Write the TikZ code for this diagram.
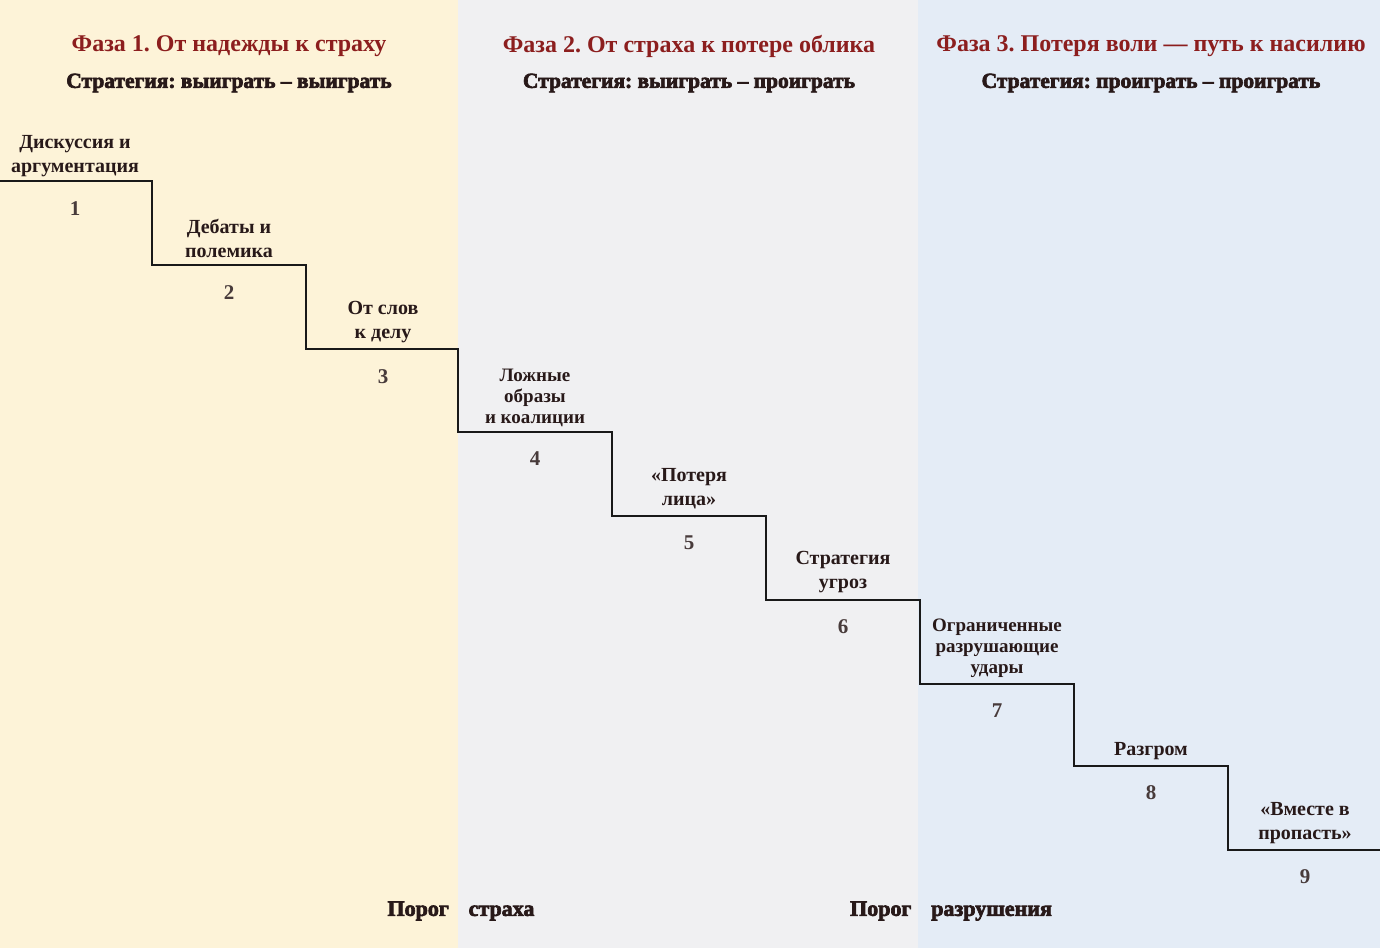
\documentclass[tikz,border=0pt]{standalone}
\usepackage{fontspec}
\setmainfont{Liberation Serif}
\newfontfamily\heavyfont[FakeBold=3]{Liberation Serif Bold}
\frenchspacing
\definecolor{bgA}{RGB}{253,243,216}
\definecolor{bgB}{RGB}{240,240,242}
\definecolor{bgC}{RGB}{228,236,246}
\definecolor{titlered}{RGB}{140,30,30}
\definecolor{inkdark}{RGB}{40,25,25}
\definecolor{stairline}{RGB}{25,25,25}
\tikzset{
  phasetitle/.style={text=titlered, font=\bfseries\fontsize{24}{26}\selectfont, inner sep=0pt},
  strategy/.style={text=inkdark, font=\heavyfont\fontsize{21.5}{22}\selectfont, inner sep=0pt},
  steplabel/.style={text=inkdark, font=\bfseries\fontsize{20}{24}\selectfont, align=center, inner sep=0pt},
  steplabelsmall/.style={text=inkdark, font=\bfseries\fontsize{19}{21}\selectfont, align=center, inner sep=0pt},
  stepnum/.style={text=inkdark!85, font=\bfseries\fontsize{21}{22}\selectfont, inner sep=0pt},
  threshold/.style={text=inkdark, font=\heavyfont\fontsize{22}{24}\selectfont, inner sep=0pt},
  stair/.style={draw=stairline, line width=2.4pt, line cap=rect, line join=miter}
}
\begin{document}
\begin{tikzpicture}[x=1pt,y=-1pt]
\useasboundingbox (0,0) rectangle (1380,948);
\fill[bgA] (0,0) rectangle (458,948);
\fill[bgB] (458,0) rectangle (918,948);
\fill[bgC] (918,0) rectangle (1380,948);

% phase headings
\node[phasetitle] (p1) at (229,46) {Фаза 1. От надежды к страху};
\node[phasetitle] (p2) at (689,46) {Фаза 2. От страха к потере облика};
\node[phasetitle] (p3) at (1151,46) {Фаза 3. Потеря воли — путь к насилию};
\node[strategy] (s1) at (229,83) {Стратегия: выиграть – выиграть};
\node[strategy] (s2) at (689,83) {Стратегия: выиграть – проиграть};
\node[strategy] (s3) at (1151,83) {Стратегия: проиграть – проиграть};

% stair corners
\coordinate (a0) at (0,181);
\coordinate (a1) at (152,181);   \coordinate (b1) at (152,265);
\coordinate (a2) at (306,265);   \coordinate (b2) at (306,349);
\coordinate (a3) at (458,349);   \coordinate (b3) at (458,432);
\coordinate (a4) at (612,432);   \coordinate (b4) at (612,516);
\coordinate (a5) at (766,516);   \coordinate (b5) at (766,600);
\coordinate (a6) at (920,600);   \coordinate (b6) at (920,684);
\coordinate (a7) at (1074,684);  \coordinate (b7) at (1074,766);
\coordinate (a8) at (1228,766);  \coordinate (b8) at (1228,850);
\coordinate (a9) at (1380,850);
\draw[stair] (a0) -- (a1) -- (b1) -- (a2) -- (b2) -- (a3) -- (b3) -- (a4) -- (b4)
  -- (a5) -- (b5) -- (a6) -- (b6) -- (a7) -- (b7) -- (a8) -- (b8) -- (a9);

% step labels
\node[steplabel] (l1) at (75,156) {Дискуссия и\\аргументация};
\node[steplabel] (l2) at (229,238) {Дебаты и\\полемика};
\node[steplabel] (l3) at (383,322) {От слов\\к делу};
\node[steplabelsmall] (l4) at (535,398) {Ложные\\образы\\и коалиции};
\node[steplabel] (l5) at (689,489) {«Потеря\\лица»};
\node[steplabel] (l6) at (843,572) {Стратегия\\угроз};
\node[steplabelsmall] (l7) at (997,648) {Ограниченные\\разрушающие\\удары};
\node[steplabel] (l8) at (1151,751) {Разгром};
\node[steplabel] (l9) at (1305,823) {«Вместе в\\пропасть»};

% step numbers
\node[stepnum] (n1) at (75,209) {1};
\node[stepnum] (n2) at (229,293) {2};
\node[stepnum] (n3) at (383,377) {3};
\node[stepnum] (n4) at (535,459) {4};
\node[stepnum] (n5) at (689,543) {5};
\node[stepnum] (n6) at (843,627) {6};
\node[stepnum] (n7) at (997,711) {7};
\node[stepnum] (n8) at (1151,793) {8};
\node[stepnum] (n9) at (1305,877) {9};

% thresholds
\node[threshold] (t1) at (461,911) {Порог\hspace{0.9em}страха};
\node[threshold] (t2) at (951,911) {Порог\hspace{0.9em}разрушения};
\end{tikzpicture}
\end{document}
